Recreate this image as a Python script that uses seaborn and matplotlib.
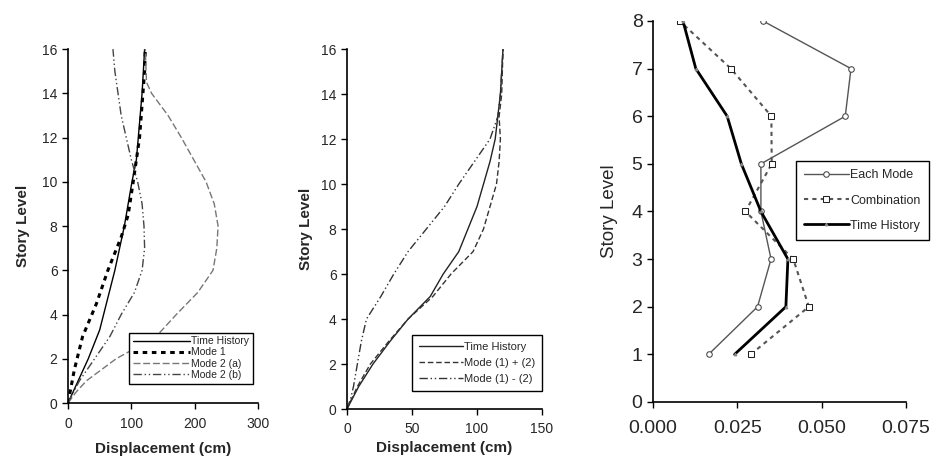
import numpy as np
import pandas as pd
import matplotlib
matplotlib.use("Agg")
import matplotlib.pyplot as plt
import seaborn as sns
from matplotlib.ticker import FormatStrFormatter

sns.set_theme(style="white")
plt.rcParams['font.family'] = ['Liberation Sans', 'DejaVu Sans']

# ---------------- Panel 1 data ----------------
p1_th_level = [0, 0.5, 1, 2, 3.3, 6, 8, 10, 11, 14, 16]
p1_th_disp = [0, 8, 16, 32, 50, 74, 89, 101, 108, 117, 121]

p1_m1_level = [0, 1.5, 3, 4.5, 6, 7.5, 8.5, 10, 12, 15, 16]
p1_m1_disp = [0, 10, 23, 45, 63, 84, 95, 103, 113, 121, 122]

p1_m2a_level = [0, 0.5, 1, 2, 3, 4, 5, 6, 7, 8, 9, 10, 12, 13, 14, 14.5, 16]
p1_m2a_disp = [0, 13, 29, 76, 139, 171, 205, 229, 235, 237, 231, 218, 179, 158, 132, 124, 122]

p1_m2b_level = [0, 1, 2, 3, 4, 5, 6, 7, 8, 9, 10, 11, 12, 13, 14, 15, 16]
p1_m2b_disp = [0, 18, 42, 66, 84, 105, 117, 121, 120, 117, 110, 100, 92, 84, 79, 74, 71]

p1_labels = ["Time History", "Mode 1", "Mode 2 (a)", "Mode 2 (b)"]

# ---------------- Panel 2 data ----------------
p2_level = [0, 1, 2, 3, 4, 5, 6, 7, 8, 9, 10, 11, 12, 13, 14, 16]
p2_th_disp = [0, 9, 20, 33, 47, 64, 74, 86, 93, 100, 105, 110, 114, 116, 118, 120]
p2_sum_disp = [0, 8, 18, 32, 47, 66, 80, 97, 105, 110, 115, 117, 118, 117, 119, 120]
p2_diff_level = [0, 0.5, 1, 3, 4, 5, 6, 7, 8, 9, 10, 11, 12, 13, 14, 16]
p2_diff_disp = [0, 3, 5, 11, 15, 26, 36, 47, 61, 75, 86, 98, 110, 116, 118, 120]
p2_labels = ["Time History", "Mode (1) + (2)", "Mode (1) - (2)"]

# ---------------- Panel 3 data ----------------
p3_level = [1, 2, 3, 4, 5, 6, 7, 8]
p3_each = [0.0165, 0.031, 0.035, 0.032, 0.032, 0.057, 0.0587, 0.0326]
p3_comb = [0.029, 0.0462, 0.0416, 0.0274, 0.0352, 0.0351, 0.0231, 0.0079]
p3_th = [0.0242, 0.0394, 0.040, 0.032, 0.0262, 0.022, 0.0127, 0.0089]
p3_labels = ["Each Mode", "Combination", "Time History"]

fig = plt.figure(figsize=(9.34, 4.62), dpi=100)
ax1 = fig.add_axes([0.0728, 0.1277, 0.2034, 0.766])
ax2 = fig.add_axes([0.3715, 0.1147, 0.2088, 0.779])
ax3 = fig.add_axes([0.6991, 0.1299, 0.2709, 0.8247])

def line(ax, x, y, **kw):
    sns.lineplot(x=x, y=y, ax=ax, sort=False, estimator=None, **kw)

# Panel 1
line(ax1, p1_th_disp, p1_th_level, color="black", lw=1.0, label=p1_labels[0])
line(ax1, p1_m1_disp, p1_m1_level, color="black", lw=2.2, linestyle=(0, (1.5, 1.5)), label=p1_labels[1])
line(ax1, p1_m2a_disp, p1_m2a_level, color="#777777", lw=1.0, linestyle=(0, (5, 2)), label=p1_labels[2])
line(ax1, p1_m2b_disp, p1_m2b_level, color="#444444", lw=1.0, linestyle=(0, (6, 2, 1, 2, 1, 2)), label=p1_labels[3])
ax1.set_xlim(0, 300)
ax1.set_ylim(0, 16)
ax1.set_xticks([0, 100, 200, 300])
ax1.set_yticks(range(0, 17, 2))
ax1.set_xlabel("Displacement (cm)", fontsize=11, fontweight="bold", labelpad=8)
ax1.set_ylabel("Story Level", fontsize=11, fontweight="bold", labelpad=9)
leg1 = ax1.legend(loc="lower right", bbox_to_anchor=(1.0, 0.04), fontsize=7.5, handlelength=5.5,
                  handletextpad=0.1, labelspacing=0.12, borderpad=0.35, fancybox=False,
                  framealpha=1, edgecolor="black")
leg1.get_frame().set_linewidth(1.0)

# Panel 2
line(ax2, p2_th_disp, p2_level, color="#222222", lw=1.0, label=p2_labels[0])
line(ax2, p2_sum_disp, p2_level, color="#333333", lw=1.0, linestyle=(0, (4, 2)), label=p2_labels[1])
line(ax2, p2_diff_disp, p2_diff_level, color="#333333", lw=1.0, linestyle=(0, (6, 2, 1, 2, 1, 2)), label=p2_labels[2])
ax2.set_xlim(0, 150)
ax2.set_ylim(0, 16)
ax2.set_xticks([0, 50, 100, 150])
ax2.set_yticks(range(0, 17, 2))
ax2.set_xlabel("Displacement (cm)", fontsize=11, fontweight="bold", labelpad=4)
ax2.set_ylabel("Story Level", fontsize=11, fontweight="bold", labelpad=6)
leg2 = ax2.legend(loc="lower right", bbox_to_anchor=(1.03, 0.035), fontsize=8, handlelength=4,
                  handletextpad=0.1, labelspacing=0.55, borderpad=0.6, fancybox=False,
                  framealpha=1, edgecolor="black")
leg2.get_frame().set_linewidth(1.0)

# Panel 3
line(ax3, p3_each, p3_level, color="#555555", lw=1.0, marker="o", markersize=4,
     markerfacecolor="white", markeredgecolor="#444444", label=p3_labels[0])
line(ax3, p3_comb, p3_level, color="#555555", lw=1.5, linestyle=(0, (2, 2)), marker="s", markersize=5,
     markerfacecolor="white", markeredgecolor="#222222", label=p3_labels[1])
line(ax3, p3_th, p3_level, color="black", lw=2.0, marker="^", markersize=2,
     markerfacecolor="#888888", markeredgecolor="#888888", label=p3_labels[2])
ax3.set_xlim(0, 0.075)
ax3.set_ylim(0, 8)
ax3.set_xticks([0, 0.025, 0.05, 0.075])
ax3.set_yticks(range(0, 9))
ax3.xaxis.set_major_formatter(FormatStrFormatter("%.3f"))
ax3.set_ylabel("Story Level", fontsize=13.5, labelpad=10)
ax3.set_xlabel("")
leg3 = ax3.legend(loc="upper left", bbox_to_anchor=(0.54, 0.648), fontsize=9, handlelength=3.6,
                  handletextpad=0.1, labelspacing=1.05, borderpad=0.65, fancybox=False,
                  framealpha=1, edgecolor="black")
leg3.get_frame().set_linewidth(1.0)

for ax, fs, pd_ in [(ax1, 10, 6), (ax2, 10, 5), (ax3, 14, 9)]:
    for s in ["top", "right"]:
        ax.spines[s].set_visible(False)
    for s in ["left", "bottom"]:
        ax.spines[s].set_color("black")
        ax.spines[s].set_linewidth(1.2)
    ax.tick_params(axis="both", which="major", direction="out", length=4, width=1,
                   color="black", labelsize=fs, left=True, bottom=True)
    ax.tick_params(axis="x", pad=pd_)
    ax.grid(False)

fig.savefig("out.png", dpi=100)
